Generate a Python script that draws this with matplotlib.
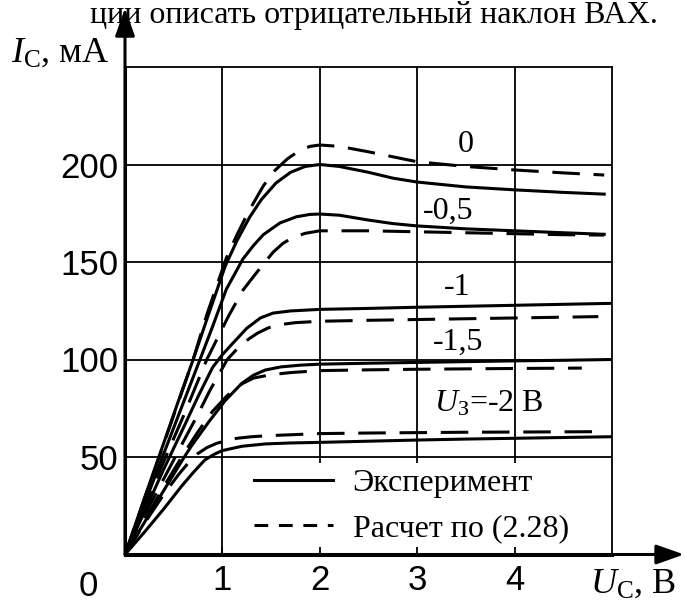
import matplotlib
matplotlib.use('Agg')
from matplotlib import pyplot as plt
from matplotlib.lines import Line2D

# ВАХ транзистора: ток стока Ic (мА) от напряжения Uc (В)
# сплошные - эксперимент, штриховые - расчет по (2.28)

# U_З = 0
uc_exp_0 = [0, 0.2, 0.4, 0.55, 0.7, 0.85, 1.03, 1.15, 1.28, 1.4, 1.55, 1.7, 1.85, 2.0, 2.2, 2.5, 2.75, 3.0, 3.5, 4.0, 4.5, 4.92]
ic_exp_0 = [0, 29, 57.5, 79, 100, 122, 148, 161, 173, 182, 190.5, 196, 199, 200, 199, 196, 193, 191, 188.5, 187, 185.7, 184.8]
uc_calc_0 = [0, 0.2, 0.4, 0.55, 0.7, 0.84, 1.04, 1.15, 1.27, 1.42, 1.54, 1.67, 1.8, 1.9, 2.0, 2.2, 2.5, 3.0, 3.5, 4.0, 4.5, 4.92]
ic_calc_0 = [0, 28.5, 57, 78.5, 100, 123, 152, 164, 176, 189, 197, 203, 207.4, 209.3, 210, 209.3, 206.5, 201.4, 199, 197.2, 195.7, 194.6]

# U_З = -0,5
uc_exp_05 = [0, 0.2, 0.4, 0.6, 0.77, 0.9, 1.04, 1.21, 1.32, 1.42, 1.59, 1.76, 1.9, 2.0, 2.2, 2.5, 2.75, 3.0, 3.5, 4.0, 4.5, 4.92]
ic_exp_05 = [0, 26, 52, 78, 100, 117, 136, 151.5, 158.5, 164, 170, 173.2, 174.4, 174.6, 174, 171.5, 169.7, 168.5, 167, 166, 165, 164.2]
uc_calc_05 = [0, 0.2, 0.4, 0.6, 0.84, 1.06, 1.21, 1.35, 1.52, 1.62, 1.72, 1.85, 2.0, 2.5, 3.0, 3.5, 4.0, 4.5, 4.92]
ic_calc_05 = [0, 24, 48, 71, 100, 122, 135.5, 144.5, 155, 159.5, 162.5, 164.7, 166, 166, 165.5, 165, 164.5, 164, 163.8]

# U_З = -1
uc_exp_1 = [0, 0.2, 0.4, 0.6, 0.75, 0.9, 1.0, 1.11, 1.25, 1.39, 1.52, 1.7, 2.0, 2.5, 3.0, 3.5, 4.0, 4.5, 5.0]
ic_exp_1 = [0, 22, 44, 65, 81, 96, 102.5, 108.5, 116, 121.3, 123.8, 124.9, 125.7, 126.2, 126.8, 127.3, 127.8, 128.3, 128.8]
uc_calc_1 = [0, 0.2, 0.4, 0.6, 0.75, 0.87, 1.05, 1.18, 1.27, 1.36, 1.47, 1.58, 1.75, 2.0, 2.5, 3.0, 3.5, 4.0, 4.5, 4.86]
ic_calc_1 = [0, 20, 39, 58, 72, 84, 100, 107, 110.5, 113.5, 116.2, 117.8, 118.9, 119.6, 120.1, 120.5, 120.9, 121.3, 121.7, 122]

# U_З = -1,5
uc_exp_15 = [0, 0.2, 0.4, 0.6, 0.68, 0.86, 1.03, 1.2, 1.32, 1.44, 1.6, 1.8, 2.0, 2.5, 3.0, 3.5, 4.0, 4.5, 5.0]
ic_exp_15 = [0, 16.5, 33, 49.3, 55.5, 68, 79, 87.8, 92, 94.6, 96.2, 97.1, 97.6, 98.1, 98.5, 98.9, 99.3, 99.6, 100]
uc_calc_15 = [0, 0.2, 0.4, 0.6, 0.75, 0.9, 1.05, 1.2, 1.32, 1.5, 1.7, 2.0, 2.5, 3.0, 3.5, 4.0, 4.69]
ic_calc_15 = [0, 17.5, 35, 51.5, 63, 73.5, 81.5, 87.5, 90.5, 92.2, 93.3, 94.3, 94.7, 95, 95.2, 95.4, 95.6]

# U_З = -2
uc_exp_2 = [0, 0.2, 0.4, 0.58, 0.7, 0.82, 0.92, 1.0, 1.2, 1.44, 1.7, 2.0, 2.5, 3.0, 3.5, 4.0, 4.5, 5.0]
ic_exp_2 = [0, 11.5, 23.5, 35, 42, 48.5, 51.5, 53.3, 55.5, 56.7, 57.2, 57.5, 58.1, 58.7, 59.2, 59.6, 60, 60.4]
uc_calc_2 = [0, 0.2, 0.4, 0.55, 0.65, 0.74, 0.84, 0.94, 1.05, 1.15, 1.3, 1.5, 2.0, 2.5, 3.0, 3.5, 4.0, 4.5, 4.92]
ic_calc_2 = [0, 16, 31, 41, 47, 51.5, 54.8, 57, 58.5, 59.6, 60.4, 61, 62, 62.3, 62.5, 62.7, 62.8, 62.9, 63]

# подписи кривых: текст, x, y
curve_labels = ['0', '-0,5', '-1', '-1,5', r'$U_\mathrm{З}$=-2 В']
label_x = [3.5, 3.32, 3.41, 3.42, 3.73]
label_y = [210, 176, 137, 109, 77.5]

x_ticks = [1, 2, 3, 4]
y_ticks = [50, 100, 150, 200]
legend_labels = ['Эксперимент', 'Расчет по (2.28)']

plt.rcParams['font.family'] = ['Liberation Serif', 'DejaVu Serif']
plt.rcParams['mathtext.fontset'] = 'custom'
plt.rcParams['mathtext.rm'] = 'Liberation Serif'
plt.rcParams['mathtext.it'] = 'Liberation Serif:italic'

fig = plt.figure(figsize=(6.85, 6.02), dpi=100)
ax = fig.add_axes([125/685, 47.5/602, 487/685, 487.5/602])

lw = 2.2
dash = (0, (9, 4.5))
solid = [(uc_exp_0, ic_exp_0), (uc_exp_05, ic_exp_05), (uc_exp_1, ic_exp_1),
         (uc_exp_15, ic_exp_15), (uc_exp_2, ic_exp_2)]
calc = [(uc_calc_0, ic_calc_0), (uc_calc_05, ic_calc_05), (uc_calc_1, ic_calc_1),
        (uc_calc_15, ic_calc_15), (uc_calc_2, ic_calc_2)]
for x, y in solid:
    ax.plot(x, y, color='black', lw=lw, zorder=3)
for x, y in calc:
    ax.plot(x, y, color='black', lw=lw, linestyle=dash, zorder=3)

# сетка (под легендой линии не рисуются)
ax.set_xlim(0, 5)
ax.set_ylim(0, 250)
grid_lw = 1.3
ax.vlines(x_ticks[:1], 0, 250, color='black', lw=grid_lw, zorder=1)
ax.vlines(x_ticks[1:], 47, 250, color='black', lw=grid_lw, zorder=1)
ax.hlines(y_ticks, 0, 5, color='black', lw=grid_lw, zorder=1)

for t, x, y in zip(curve_labels, label_x, label_y):
    ax.text(x, y, t, fontsize=23, ha='center', va='center', zorder=4)

handles = [Line2D([], [], color='black', lw=lw),
           Line2D([], [], color='black', lw=lw, linestyle=(0, (4.5, 3.5)))]
ax.legend(handles, legend_labels, loc='upper left', bbox_to_anchor=(1.32, 44),
          bbox_transform=ax.transData, frameon=False, fontsize=23,
          handlelength=2.5, handletextpad=0.6, labelspacing=0.5,
          borderpad=0, borderaxespad=0)

# оси
ax.set_xticks(x_ticks)
ax.set_xticklabels([str(v) for v in x_ticks], family='Liberation Sans', fontsize=25)
ax.set_yticks(y_ticks)
ax.set_yticklabels([str(v) for v in y_ticks], family='Liberation Sans', fontsize=25)
ax.tick_params(axis='x', direction='in', length=6, width=grid_lw, pad=7)
ax.tick_params(axis='y', length=0, pad=5)
for s in ['left', 'bottom']:
    ax.spines[s].set_linewidth(lw)
for s in ['top', 'right']:
    ax.spines[s].set_linewidth(grid_lw)

ax.text(-0.076, -0.065, '0', transform=ax.transAxes, family='Liberation Sans',
        fontsize=25, ha='center', va='center')

arrow = dict(arrowstyle='-|>,head_length=17,head_width=6', mutation_scale=1,
             color='black', lw=lw, shrinkA=0, shrinkB=0)
ax.annotate('', xy=(0, 1.121), xytext=(0, 0), xycoords='axes fraction',
            textcoords='axes fraction', arrowprops=arrow, annotation_clip=False)
ax.annotate('', xy=(1.148, 0), xytext=(0, 0), xycoords='axes fraction',
            textcoords='axes fraction', arrowprops=arrow, annotation_clip=False)

ax.text(-0.234, 1.01, r'$I_\mathrm{С}$, мА', transform=ax.transAxes,
        fontsize=26, ha='left', va='baseline')
ax.text(0.955, -0.079, r'$U_\mathrm{С}$, В', transform=ax.transAxes,
        fontsize=26, ha='left', va='baseline')

# строка текста из книги над рисунком
fig.text(90/685, 1 - 23/602, 'ции описать отрицательный наклон ВАХ.',
         fontsize=23, ha='left', va='baseline')

fig.savefig('out.png', dpi=100)
